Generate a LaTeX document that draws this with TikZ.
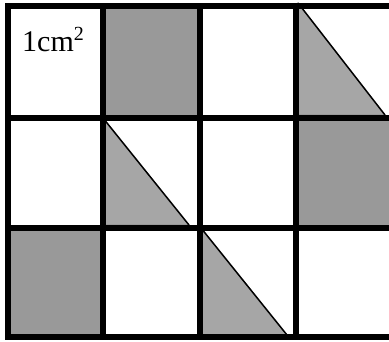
\documentclass[tikz,border=0pt]{standalone}
\usepackage{fontspec}
\setmainfont{Liberation Serif}
\definecolor{sqgray}{HTML}{999999}
\definecolor{trigray}{HTML}{A6A6A6}
\tikzset{
  gridline/.style={line width=6pt, line cap=rect},
  sq/.style={fill=sqgray},
  tri/.style={fill=trigray, draw=gray, line width=0.6pt},
  hyp/.style={line width=1.5pt}
}
\begin{document}
\begin{tikzpicture}[x=1pt,y=-1pt]
\useasboundingbox (0,0) rectangle (389,341);
\fill[white] (0,0) rectangle (389,341);
% gray squares
\fill[sq] (103,5.5) rectangle (199.5,117.5);
\fill[sq] (296,117.5) rectangle (389,228);
\fill[sq] (7.5,228) rectangle (103,337);
% triangles
\coordinate (t1a) at (298,3);
\coordinate (t1b) at (298,115);
\coordinate (t1c) at (385,115);
\coordinate (t2a) at (103,118);
\coordinate (t2b) at (103,225);
\coordinate (t2c) at (189,225);
\coordinate (t3a) at (201,228);
\coordinate (t3b) at (201,335);
\coordinate (t3c) at (287,335);
\filldraw[tri] (t1a) -- (t1b) -- (t1c) -- cycle;
\filldraw[tri] (t2a) -- (t2b) -- (t2c) -- cycle;
\filldraw[tri] (t3a) -- (t3b) -- (t3c) -- cycle;
% grid
\foreach \y in {5.5,117.5,228,337} \draw[gridline] (7.5,\y) -- (392,\y);
\foreach \x in {7.5,103,199.5,296} \draw[gridline] (\x,5.5) -- (\x,337);
% hypotenuses
\draw[hyp] (t1a) -- (t1c);
\draw[hyp] (t2a) -- (t2c);
\draw[hyp] (t3a) -- (t3c);
\node[anchor=base west, inner sep=0pt, font=\fontsize{30}{30}\selectfont] (lbl) at (22,51.7) {1cm\raisebox{11pt}{\fontsize{20}{20}\selectfont 2}};
\end{tikzpicture}
\end{document}
